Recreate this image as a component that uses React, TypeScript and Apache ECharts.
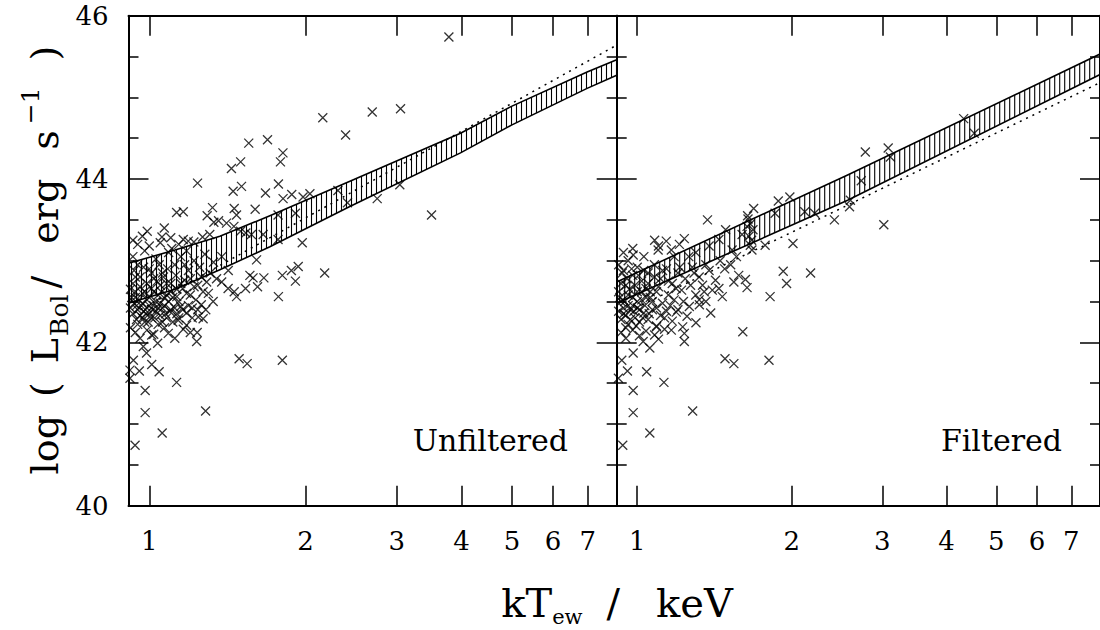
import React, { useEffect, useRef } from "react";
import * as echarts from "echarts";

// ---------- axis ranges & ticks ----------
const X_MIN = 0.912; // keV
const X_MAX = 7.96; // keV
const Y_MIN = 40;
const Y_MAX = 46;
const xTickValues = [1, 2, 3, 4, 5, 6, 7];
const yLabelInterval = 2;

// ---------- Unfiltered panel: [kT (keV), log L] ----------
const unfilteredOutliers: [number, number][] = [
  [3.78, 45.74], [2.69, 44.82], [3.05, 44.86], [2.75, 43.76], [3.04, 43.93], [3.5, 43.56],
  [2.16, 44.75], [2.39, 44.54], [1.555, 44.44], [1.69, 44.48], [1.81, 44.32], [1.79, 44.21],
  [1.44, 44.13], [1.5, 44.21],
  [1.239, 43.95], [1.451, 43.85], [1.506, 43.91], [1.675, 43.83], [1.774, 43.94], [1.811, 43.76],
  [1.882, 43.81], [1.979, 43.78], [2.04, 43.82], [2.31, 43.86], [2.41, 43.71], [1.324, 43.65],
  [1.458, 43.64], [1.6, 43.63], [1.129, 43.59], [1.163, 43.6], [1.293, 43.55], [1.473, 43.56],
  [1.771, 43.56], [1.913, 43.58], [1.332, 43.47], [1.36, 43.49], [1.409, 43.46], [1.456, 43.42],
  [0.991, 43.36], [1.069, 43.4], [1.058, 43.29], [1.163, 43.26], [1.189, 43.24], [1.219, 43.23],
  [1.267, 43.29], [1.308, 43.32], [1.5, 43.36], [1.535, 43.34], [1.574, 43.32], [1.658, 43.32],
  [1.972, 43.22], [1.771, 43.26], [1.61, 43.01], [1.563, 42.82], [1.585, 42.79], [1.663, 42.79],
  [1.805, 42.82], [1.879, 42.88], [1.937, 42.93], [1.913, 42.75], [2.178, 42.85], [1.379, 42.74],
  [1.348, 42.78], [1.419, 42.66], [1.458, 42.62], [1.473, 42.56], [1.533, 42.66], [1.617, 42.68],
  [1.774, 42.56], [1.328, 42.5], [1.285, 42.4], [1.243, 42.31], [1.27, 42.29], [1.137, 42.27],
  [1.18, 42.21], [1.163, 42.16], [1.237, 42.12], [1.234, 42.01], [1.088, 42.11], [1.038, 41.99],
  [1.011, 42.09], [0.974, 41.95], [0.988, 41.87], [0.932, 41.78], [0.957, 41.65], [1.011, 41.73],
  [1.045, 41.64], [0.918, 41.66], [0.918, 41.56], [1.49, 41.8], [1.544, 41.74], [1.805, 41.78],
  [0.982, 41.41], [1.129, 41.51], [0.982, 41.14], [1.284, 41.16], [1.059, 40.89], [0.939, 40.74],
];
const unfilteredCluster: [number, number][] = [
  [0.93, 43.05], [0.95, 42.95], [0.98, 43.12], [1.0, 42.9], [1.03, 43.02], [1.06, 42.85], [1.09, 43.1],
  [1.12, 42.95], [1.15, 43.05], [1.19, 42.88], [1.22, 43.0], [1.25, 42.92], [1.28, 43.08], [1.31, 42.85],
  [0.94, 42.8], [1.02, 42.78], [1.08, 42.72], [1.17, 42.76], [1.24, 42.7], [1.29, 42.74],
  [0.92, 42.65], [0.94, 42.55], [0.96, 42.68], [0.97, 42.6], [0.99, 42.52], [1.01, 42.66], [1.04, 42.58],
  [1.05, 42.7], [1.07, 42.54], [1.1, 42.62], [1.13, 42.56], [1.16, 42.66], [1.2, 42.58], [1.23, 42.52],
  [1.27, 42.62], [1.14, 42.5],
  [0.92, 42.42], [0.93, 42.35], [0.935, 42.48], [0.945, 42.28], [0.95, 42.4], [0.96, 42.33], [0.965, 42.45],
  [0.975, 42.38], [0.98, 42.25], [0.99, 42.42], [1.0, 42.35], [1.01, 42.3], [1.02, 42.45], [1.03, 42.38],
  [1.04, 42.22], [1.05, 42.33], [1.06, 42.42], [1.08, 42.3], [1.1, 42.4], [1.11, 42.25], [1.13, 42.35],
  [1.15, 42.44], [1.18, 42.36], [1.21, 42.42], [1.26, 42.46],
  [0.92, 42.18], [0.94, 42.12], [0.96, 42.05], [0.99, 42.15], [1.02, 42.1], [1.07, 42.18], [1.12, 42.05],
  [1.2, 42.12],
  [0.925, 42.55], [0.93, 42.72], [0.935, 42.88], [0.94, 42.62], [0.945, 42.45], [0.95, 42.22], [0.955, 42.52],
  [0.96, 42.8], [0.97, 42.3], [0.97, 42.48], [0.975, 42.92], [0.98, 42.62], [0.985, 42.35], [0.99, 42.72],
  [0.995, 42.25], [1.0, 42.55], [1.0, 42.45], [1.01, 42.85], [1.015, 42.4], [1.02, 42.62], [1.025, 42.3],
  [1.03, 42.5], [1.035, 42.75], [1.04, 42.42], [1.045, 42.95], [1.05, 42.48], [1.055, 42.62], [1.06, 42.25],
  [1.065, 42.8], [1.07, 42.45], [1.075, 42.35], [1.08, 42.58], [1.085, 42.9], [1.09, 42.5], [1.095, 42.38],
  [1.1, 42.72], [1.105, 43.15], [1.11, 42.55], [1.12, 42.42], [1.125, 42.82], [1.13, 42.65], [1.14, 42.3],
  [1.15, 42.72], [1.16, 42.4], [1.17, 42.95], [1.18, 42.6], [1.19, 42.45], [1.2, 42.78], [1.21, 42.3],
  [1.22, 42.68], [1.24, 42.4], [1.26, 42.8], [1.3, 42.6], [1.33, 42.98], [1.38, 43.05], [1.42, 42.88],
  [0.95, 43.2], [1.0, 43.18], [1.05, 43.22], [1.1, 43.28], [1.14, 43.2], [1.18, 43.12], [0.93, 43.25],
  [0.97, 43.3],
];

// ---------- Filtered panel ----------
const filteredOutliers: [number, number][] = [
  [1.685, 43.64], [1.37, 43.5], [1.486, 43.38], [1.643, 43.51], [1.882, 43.73], [1.982, 43.78],
  [2.119, 43.6], [2.215, 43.58], [1.855, 43.58], [2.42, 43.5], [1.081, 43.25], [1.139, 43.24],
  [1.235, 43.27], [1.208, 43.2], [0.982, 43.07], [1.098, 43.13], [1.165, 43.13], [1.38, 43.18],
  [1.442, 43.26], [1.53, 43.13], [1.6, 43.32], [1.636, 43.42], [1.66, 43.19], [1.672, 43.13],
  [1.774, 43.19], [1.924, 42.87], [1.953, 42.72], [2.01, 43.21], [2.175, 42.85], [1.576, 42.82],
  [1.624, 42.77], [1.636, 42.67], [1.542, 42.74], [1.814, 42.56], [1.4, 42.64], [1.442, 42.66],
  [1.464, 42.56], [1.39, 42.36], [1.301, 42.24], [1.321, 42.46], [1.36, 42.5], [1.263, 42.44],
  [1.226, 42.19], [1.235, 42.11], [1.191, 42.37], [1.165, 42.15], [1.09, 42.19], [1.081, 42.09],
  [1.027, 42.01], [1.058, 41.93], [0.982, 41.87], [1.235, 42.01], [1.605, 42.13], [1.482, 41.8],
  [1.542, 41.74], [1.805, 41.78], [0.933, 41.78], [0.957, 41.65], [1.043, 41.64], [0.919, 41.56],
  [1.127, 41.51], [0.982, 41.41], [0.982, 41.14], [1.282, 41.16], [1.058, 40.89], [0.937, 40.74],
  [2.78, 44.33], [3.08, 44.38], [3.11, 44.27], [2.73, 43.98], [2.6, 43.74], [2.59, 43.66],
  [3.02, 43.44], [4.32, 44.74], [4.53, 44.56],
  [1.65, 43.3], [1.66, 43.45], [1.64, 43.55], [1.67, 43.25], [1.68, 43.38],
];
const filteredCluster: [number, number][] = [
  [0.92, 42.95], [0.94, 42.88], [0.96, 43.0], [0.98, 42.82], [1.0, 42.92], [1.02, 42.75], [1.05, 42.85],
  [1.08, 42.95], [1.11, 42.78], [1.14, 42.9], [1.17, 42.72], [1.2, 42.85], [1.24, 42.78], [1.28, 42.92],
  [1.32, 42.8], [1.36, 42.95], [1.26, 43.05],
  [0.92, 42.62], [0.93, 42.5], [0.95, 42.7], [0.96, 42.58], [0.98, 42.45], [1.0, 42.62], [1.02, 42.52],
  [1.04, 42.66], [1.06, 42.55], [1.09, 42.62], [1.12, 42.48], [1.15, 42.58], [1.18, 42.52], [1.22, 42.64],
  [1.3, 42.58], [1.34, 42.7],
  [0.92, 42.38], [0.93, 42.28], [0.94, 42.42], [0.95, 42.33], [0.96, 42.22], [0.97, 42.4], [0.99, 42.3],
  [1.0, 42.42], [1.01, 42.25], [1.03, 42.36], [1.05, 42.28], [1.07, 42.4], [1.09, 42.2], [1.11, 42.33],
  [1.14, 42.38], [1.17, 42.26], [1.2, 42.4],
  [0.93, 42.12], [0.95, 42.05], [0.98, 42.15], [1.01, 42.08], [1.04, 42.14], [1.1, 42.04], [1.13, 42.16],
  [0.925, 42.55], [0.93, 42.72], [0.935, 42.85], [0.94, 42.35], [0.945, 42.5], [0.95, 42.18], [0.955, 42.78],
  [0.96, 42.45], [0.965, 42.65], [0.97, 42.28], [0.975, 42.9], [0.98, 42.55], [0.985, 42.38], [0.99, 42.7],
  [0.995, 42.2], [1.0, 42.5], [1.005, 42.82], [1.01, 42.4], [1.02, 42.62], [1.025, 42.3], [1.03, 42.88],
  [1.035, 42.45], [1.04, 42.55], [1.05, 42.72], [1.055, 42.35], [1.06, 42.62], [1.07, 42.5], [1.08, 42.8],
  [1.09, 42.42], [1.1, 42.68], [1.12, 42.88], [1.13, 42.3], [1.15, 42.75], [1.16, 42.45], [1.19, 42.66],
  [1.21, 42.92], [1.23, 42.5], [1.25, 42.32], [1.27, 42.7], [1.29, 42.85], [1.32, 42.52], [1.35, 42.62],
  [1.38, 42.88], [1.42, 42.76], [1.45, 43.0], [1.48, 42.9], [1.52, 42.95], [1.56, 43.05], [0.94, 43.1],
  [0.98, 43.15], [1.03, 43.05], [1.1, 43.18], [1.18, 43.05], [1.3, 43.1],
];

// ---------- relation bands (hatched) and dotted relations ----------
const bandUnfilteredT = [0.912, 1.121, 1.368, 1.708, 2.43, 3.98, 4.99, 6.98, 7.96];
const bandUnfilteredUpper = [42.97, 43.13, 43.3, 43.55, 43.97, 44.56, 44.89, 45.31, 45.46];
const bandUnfilteredLower = [42.48, 42.65, 42.89, 43.17, 43.66, 44.32, 44.66, 45.11, 45.27];
const dottedUnfilteredT = [0.912, 7.96];
const dottedUnfilteredL = [42.32, 45.64];

const bandFilteredT = [0.912, 2.568, 7.96];
const bandFilteredUpper = [42.74, 44.05, 45.53];
const bandFilteredLower = [42.48, 43.74, 45.28];
const dottedFilteredT = [0.912, 2.568, 7.96];
const dottedFilteredL = [42.31, 43.68, 45.18];

const FONT = "DejaVu Serif";
const lg = (v: number) => Math.log10(v);

function interpY(pts: number[][], x: number) {
  for (let i = 0; i < pts.length - 1; i++) {
    const [xa, ya] = pts[i];
    const [xb, yb] = pts[i + 1];
    if (x >= xa && x <= xb) return ya + ((yb - ya) * (x - xa)) / (xb - xa);
  }
  return pts[pts.length - 1][1];
}

function bandSeries(axisIdx: number, T: number[], up: number[], lo: number[]) {
  return {
    type: "custom",
    xAxisIndex: axisIdx,
    yAxisIndex: axisIdx,
    silent: true,
    data: [[lg(T[0]), up[0]]],
    renderItem: (params: any, api: any) => {
      const upPx = T.map((t, i) => api.coord([lg(t), up[i]]));
      const loPx = T.map((t, i) => api.coord([lg(t), lo[i]]));
      const children: any[] = [
        { type: "polyline", shape: { points: upPx }, style: { stroke: "#000", lineWidth: 1.6, fill: null } },
        { type: "polyline", shape: { points: loPx }, style: { stroke: "#000", lineWidth: 1.6, fill: null } },
      ];
      const x0 = upPx[0][0];
      const x1 = upPx[upPx.length - 1][0];
      for (let x = x0 + 3; x < x1; x += 5) {
        children.push({
          type: "line",
          shape: { x1: x, y1: interpY(upPx, x), x2: x, y2: interpY(loPx, x) },
          style: { stroke: "#000", lineWidth: 1.1 },
        });
      }
      return { type: "group", children };
    },
  };
}

function scatterSeries(axisIdx: number, pts: [number, number][]) {
  return {
    type: "scatter",
    xAxisIndex: axisIdx,
    yAxisIndex: axisIdx,
    symbol: "path://M0 0L10 10M10 0L0 10",
    symbolSize: 9,
    itemStyle: { color: "#000", borderColor: "#000", borderWidth: 1.3 },
    data: pts.map(([t, l]) => [lg(t), l]),
  };
}

function dottedSeries(axisIdx: number, T: number[], L: number[]) {
  return {
    type: "line",
    xAxisIndex: axisIdx,
    yAxisIndex: axisIdx,
    showSymbol: false,
    symbol: "none",
    lineStyle: { color: "#000", width: 1.5, type: [2, 5] },
    data: T.map((t, i) => [lg(t), L[i]]),
  };
}

const tickLog = xTickValues.map(lg);
const lineStyle = { color: "#000", width: 2 };
const tickStyle = { color: "#000", width: 1.5 };

function xAxisPair(gridIndex: number) {
  const base = {
    type: "value",
    gridIndex,
    min: lg(X_MIN),
    max: lg(X_MAX),
    axisLine: { show: true, onZero: false, lineStyle },
    axisTick: { show: true, inside: true, length: 20, customValues: tickLog, lineStyle: tickStyle },
    splitLine: { show: false },
  };
  return [
    {
      ...base,
      position: "bottom",
      axisLabel: {
        show: true,
        customValues: tickLog,
        formatter: (v: number) => String(Math.round(Math.pow(10, v))),
        margin: 22,
        fontSize: 26,
        fontFamily: FONT,
        color: "#000",
      },
    },
    { ...base, position: "top", axisLabel: { show: false } },
  ];
}

function yAxisPair(gridIndex: number, labels: boolean) {
  const base = {
    type: "value",
    gridIndex,
    min: Y_MIN,
    max: Y_MAX,
    interval: yLabelInterval,
    axisLine: { show: true, onZero: false, lineStyle },
    axisTick: { show: true, inside: true, length: 20, lineStyle: tickStyle },
    minorTick: { show: true, splitNumber: 4, length: 10, lineStyle: tickStyle },
    splitLine: { show: false },
    minorSplitLine: { show: false },
  };
  return [
    {
      ...base,
      position: "left",
      axisLabel: { show: labels, margin: 20, fontSize: 26, fontFamily: FONT, color: "#000" },
    },
    { ...base, position: "right", axisLabel: { show: false } },
  ];
}

export default function App() {
  const ref = useRef<HTMLDivElement>(null);
  useEffect(() => {
    if (!ref.current) return;
    const chart = echarts.init(ref.current, null, { renderer: "svg" });
    const option: any = {
      animation: false,
      backgroundColor: "#fff",
      grid: [
        { left: 128.5, top: 15.7, width: 488.2, height: 490 },
        { left: 616.7, top: 15.7, width: 488.5, height: 490 },
      ],
      xAxis: [...xAxisPair(0), ...xAxisPair(1)],
      yAxis: [...yAxisPair(0, true), ...yAxisPair(1, false)],
      series: [
        bandSeries(0, bandUnfilteredT, bandUnfilteredUpper, bandUnfilteredLower),
        dottedSeries(0, dottedUnfilteredT, dottedUnfilteredL),
        scatterSeries(0, [...unfilteredOutliers, ...unfilteredCluster]),
        bandSeries(2, bandFilteredT, bandFilteredUpper, bandFilteredLower),
        dottedSeries(2, dottedFilteredT, dottedFilteredL),
        scatterSeries(2, [...filteredOutliers, ...filteredCluster]),
      ],
      graphic: [
        {
          type: "text",
          x: 568,
          y: 440,
          style: { text: "Unfiltered", align: "right", verticalAlign: "middle", fontSize: 30, fontFamily: FONT, fill: "#000" },
        },
        {
          type: "text",
          x: 1062,
          y: 440,
          style: { text: "Filtered", align: "right", verticalAlign: "middle", fontSize: 30, fontFamily: FONT, fill: "#000" },
        },
        {
          type: "text",
          x: 45,
          y: 260,
          rotation: Math.PI / 2,
          style: {
            text: "{m|log}{a|(}{b|L}{s|Bol}{c|/}{d|erg}{e|s}{p|−1}{f|)}",
            align: "center",
            verticalAlign: "middle",
            fill: "#000",
            rich: {
              m: { fontSize: 38, fontFamily: FONT, fill: "#000", lineHeight: 54 },
              a: { fontSize: 38, fontFamily: FONT, fill: "#000", lineHeight: 54, padding: [0, 0, 0, 18] },
              b: { fontSize: 38, fontFamily: FONT, fill: "#000", lineHeight: 54, padding: [0, 0, 0, 19] },
              s: { fontSize: 25, fontFamily: FONT, fill: "#000", lineHeight: 25, verticalAlign: "bottom", padding: [0, 0, 0, 2] },
              c: { fontSize: 38, fontFamily: FONT, fill: "#000", lineHeight: 54, padding: [0, 0, 0, 6] },
              d: { fontSize: 38, fontFamily: FONT, fill: "#000", lineHeight: 54, padding: [0, 0, 0, 32] },
              e: { fontSize: 38, fontFamily: FONT, fill: "#000", lineHeight: 54, padding: [0, 0, 0, 29] },
              p: { fontSize: 25, fontFamily: FONT, fill: "#000", lineHeight: 25, verticalAlign: "top", padding: [0, 0, 0, 6] },
              f: { fontSize: 38, fontFamily: FONT, fill: "#000", lineHeight: 54, padding: [0, 0, 0, 27] },
            },
          },
        },
        {
          type: "text",
          x: 617,
          y: 603,
          style: {
            text: "{m|kT}{s|ew}{g|/}{m|keV}",
            align: "center",
            verticalAlign: "middle",
            fill: "#000",
            rich: {
              m: { fontSize: 40, fontFamily: FONT, fill: "#000", lineHeight: 48 },
              s: { fontSize: 21, fontFamily: FONT, fill: "#000", lineHeight: 21, verticalAlign: "bottom" },
              g: { fontSize: 40, fontFamily: FONT, fill: "#000", lineHeight: 48, padding: [0, 36, 0, 24] },
            },
          },
        },
      ],
    };
    chart.setOption(option);
    return () => chart.dispose();
  }, []);
  return <div ref={ref} style={{ position: "absolute", left: 0, top: 0, width: 1100, height: 630 }} />;
}
